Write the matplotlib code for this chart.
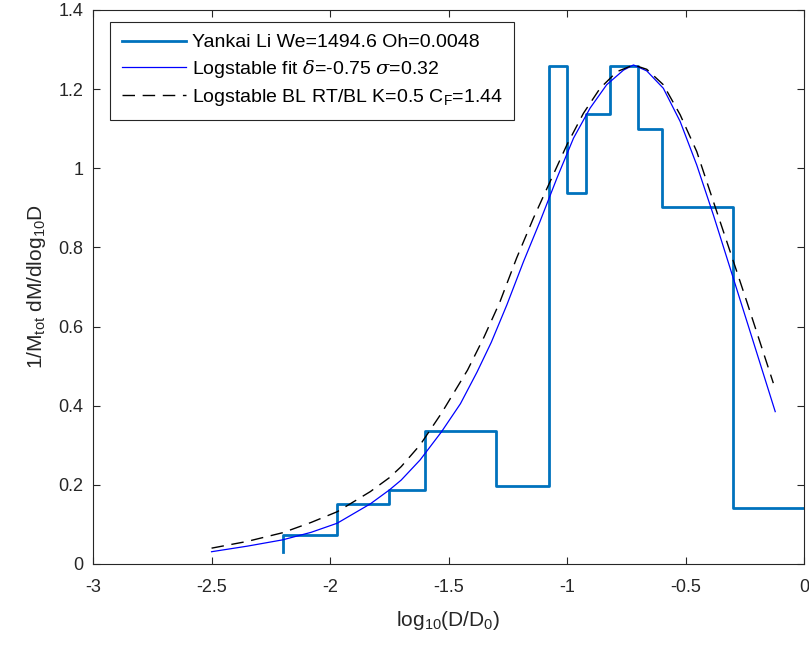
import matplotlib
matplotlib.use("Agg")
import matplotlib.pyplot as plt
from matplotlib.ticker import FormatStrFormatter

# histogram steps (bin edges and heights)
edges = [-2.2, -1.97, -1.75, -1.6, -1.3, -1.075, -1.0, -0.92, -0.82, -0.70, -0.6, -0.3, 0.0]
heights = [0.072, 0.152, 0.186, 0.336, 0.196, 1.259, 0.938, 1.137, 1.259, 1.100, 0.903, 0.142]
start_y = 0.03

# logstable fit (blue)
fit_x = [-2.5, -2.35, -2.2, -2.08, -1.97, -1.83, -1.75, -1.70, -1.62, -1.53, -1.45, -1.38,
         -1.32, -1.254, -1.184, -1.114, -1.043, -0.973, -0.903, -0.833, -0.762, -0.72, -0.664,
         -0.594, -0.523, -0.453, -0.383, -0.312, -0.221, -0.122]
fit_y = [0.031, 0.045, 0.061, 0.080, 0.103, 0.152, 0.187, 0.212, 0.263, 0.334, 0.405, 0.485,
         0.56, 0.655, 0.764, 0.866, 0.975, 1.076, 1.152, 1.211, 1.248, 1.261, 1.246,
         1.202, 1.118, 1.008, 0.882, 0.747, 0.574, 0.385]

# logstable BL RT/BL (dashed)
bl_x = [-2.5, -2.35, -2.2, -2.08, -1.97, -1.83, -1.75, -1.70, -1.62, -1.53, -1.42, -1.35,
        -1.283, -1.213, -1.142, -1.072, -1.001, -0.931, -0.861, -0.79, -0.72, -0.664,
        -0.594, -0.523, -0.453, -0.383, -0.312, -0.242, -0.13]
bl_y = [0.040, 0.057, 0.079, 0.105, 0.132, 0.183, 0.218, 0.246, 0.301, 0.381, 0.490, 0.574,
        0.663, 0.773, 0.874, 0.966, 1.059, 1.139, 1.202, 1.244, 1.261, 1.250,
        1.211, 1.135, 1.042, 0.916, 0.789, 0.663, 0.457]

x_ticks = [-3, -2.5, -2, -1.5, -1, -0.5, 0]
y_ticks = [0, 0.2, 0.4, 0.6, 0.8, 1, 1.2, 1.4]

plt.rcParams['font.family'] = ['Liberation Sans', 'DejaVu Sans']
plt.rcParams['mathtext.fontset'] = 'custom'
plt.rcParams['mathtext.rm'] = 'Liberation Sans'
plt.rcParams['mathtext.it'] = 'DejaVu Serif:italic'
plt.rcParams['axes.unicode_minus'] = False

fig = plt.figure(figsize=(8.09, 6.45), dpi=100)
ax = fig.add_axes([0.115, 0.1256, 0.879, 0.859])

gray = '#262626'
ax.step([edges[0]] + edges, [start_y] + heights + [heights[-1]], where='post',
        color='#0072BD', lw=2.0, label='Yankai Li We=1494.6 Oh=0.0048')
ax.plot(fit_x, fit_y, color='b', lw=0.9,
        label=r'Logstable fit $\delta$=-0.75 $\sigma$=0.32')
ax.plot(bl_x, bl_y, color='k', lw=1.0, dashes=(9, 5.5),
        label=r'Logstable BL RT/BL K=0.5 C$_{\mathrm{F}}$=1.44')

ax.set_xlim(-3, 0)
ax.set_ylim(0, 1.4)
ax.set_xticks(x_ticks)
ax.set_yticks(y_ticks)
ax.xaxis.set_major_formatter(FormatStrFormatter('%g'))
ax.yaxis.set_major_formatter(FormatStrFormatter('%g'))
ax.tick_params(direction='in', length=5, width=0.8, top=True, right=True,
               labelsize=13, colors=gray)
ax.tick_params(axis='x', pad=11)
ax.tick_params(axis='y', pad=7)
for s in ax.spines.values():
    s.set_color(gray)
    s.set_linewidth(0.8)

ax.set_xlabel(r'log$_{\mathrm{10}}$(D/D$_{\mathrm{0}}$)', fontsize=15, color=gray, labelpad=9)
ax.set_ylabel(r'1/M$_{\mathrm{tot}}$ dM/dlog$_{\mathrm{10}}$D', fontsize=15, color=gray, labelpad=7)

leg = ax.legend(loc='upper left', bbox_to_anchor=(0.024, 0.978), fontsize=14,
                handlelength=3.3, handletextpad=0.3, labelspacing=0.35,
                borderpad=0.6, borderaxespad=0, fancybox=False, framealpha=1,
                edgecolor=gray)
leg.get_frame().set_linewidth(0.8)

fig.savefig('out.png', dpi=100)
